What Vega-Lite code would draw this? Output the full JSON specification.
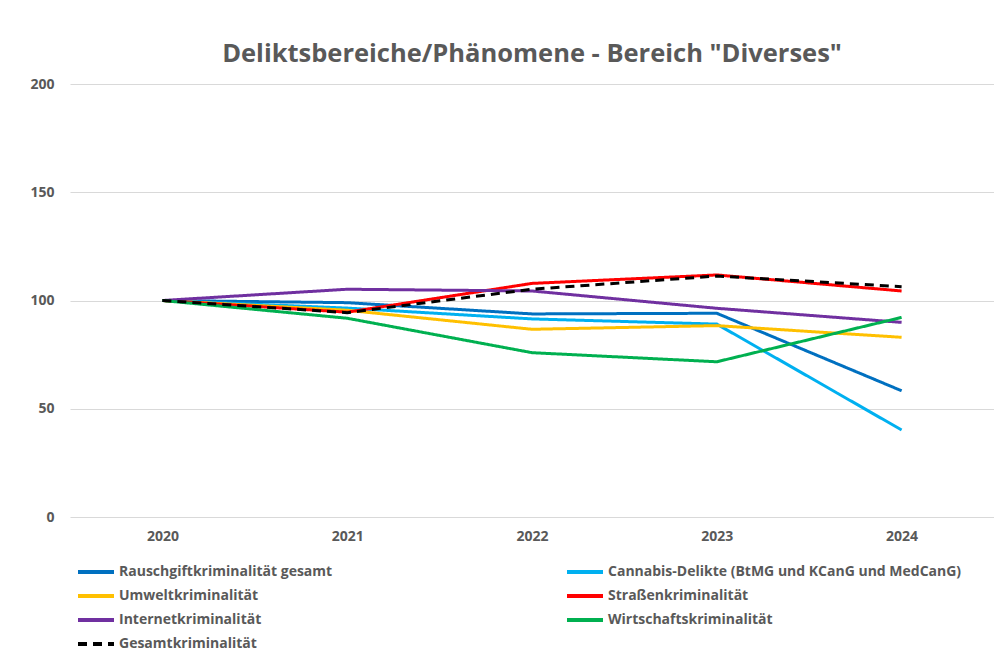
{
  "$schema": "https://vega.github.io/schema/vega-lite/v6.json",
  "width": 924,
  "height": 433,
  "autosize": {"type": "none"},
  "padding": {"left": 70, "top": 84, "right": 0, "bottom": 135},
  "background": "white",
  "title": {
    "text": "Deliktsbereiche/Phänomene - Bereich \"Diverses\"",
    "font": "Open Sans",
    "fontSize": 25.5,
    "fontWeight": "bold",
    "color": "#595959",
    "anchor": "middle",
    "frame": "group",
    "offset": 10
  },
  "config": {
    "view": {"stroke": null},
    "font": "Open Sans"
  },
  "data": {
    "values": [
      {"Jahr": "2020", "Bereich": "Rauschgiftkriminalität gesamt", "Wert": 100},
      {"Jahr": "2021", "Bereich": "Rauschgiftkriminalität gesamt", "Wert": 99},
      {"Jahr": "2022", "Bereich": "Rauschgiftkriminalität gesamt", "Wert": 93.8},
      {"Jahr": "2023", "Bereich": "Rauschgiftkriminalität gesamt", "Wert": 94.1},
      {"Jahr": "2024", "Bereich": "Rauschgiftkriminalität gesamt", "Wert": 58.3},
      {"Jahr": "2020", "Bereich": "Cannabis-Delikte (BtMG und KCanG und MedCanG)", "Wert": 100},
      {"Jahr": "2021", "Bereich": "Cannabis-Delikte (BtMG und KCanG und MedCanG)", "Wert": 96.5},
      {"Jahr": "2022", "Bereich": "Cannabis-Delikte (BtMG und KCanG und MedCanG)", "Wert": 91.5},
      {"Jahr": "2023", "Bereich": "Cannabis-Delikte (BtMG und KCanG und MedCanG)", "Wert": 89.1},
      {"Jahr": "2024", "Bereich": "Cannabis-Delikte (BtMG und KCanG und MedCanG)", "Wert": 40.2},
      {"Jahr": "2020", "Bereich": "Umweltkriminalität", "Wert": 100},
      {"Jahr": "2021", "Bereich": "Umweltkriminalität", "Wert": 95.5},
      {"Jahr": "2022", "Bereich": "Umweltkriminalität", "Wert": 86.7},
      {"Jahr": "2023", "Bereich": "Umweltkriminalität", "Wert": 88.4},
      {"Jahr": "2024", "Bereich": "Umweltkriminalität", "Wert": 83.0},
      {"Jahr": "2020", "Bereich": "Straßenkriminalität", "Wert": 100},
      {"Jahr": "2021", "Bereich": "Straßenkriminalität", "Wert": 94.6},
      {"Jahr": "2022", "Bereich": "Straßenkriminalität", "Wert": 107.9},
      {"Jahr": "2023", "Bereich": "Straßenkriminalität", "Wert": 111.8},
      {"Jahr": "2024", "Bereich": "Straßenkriminalität", "Wert": 104.4},
      {"Jahr": "2020", "Bereich": "Internetkriminalität", "Wert": 100},
      {"Jahr": "2021", "Bereich": "Internetkriminalität", "Wert": 105.2},
      {"Jahr": "2022", "Bereich": "Internetkriminalität", "Wert": 104.4},
      {"Jahr": "2023", "Bereich": "Internetkriminalität", "Wert": 96.4},
      {"Jahr": "2024", "Bereich": "Internetkriminalität", "Wert": 89.9},
      {"Jahr": "2020", "Bereich": "Wirtschaftskriminalität", "Wert": 100},
      {"Jahr": "2021", "Bereich": "Wirtschaftskriminalität", "Wert": 91.8},
      {"Jahr": "2022", "Bereich": "Wirtschaftskriminalität", "Wert": 75.9},
      {"Jahr": "2023", "Bereich": "Wirtschaftskriminalität", "Wert": 71.7},
      {"Jahr": "2024", "Bereich": "Wirtschaftskriminalität", "Wert": 92.2},
      {"Jahr": "2020", "Bereich": "Gesamtkriminalität", "Wert": 100},
      {"Jahr": "2021", "Bereich": "Gesamtkriminalität", "Wert": 94.4},
      {"Jahr": "2022", "Bereich": "Gesamtkriminalität", "Wert": 105.2},
      {"Jahr": "2023", "Bereich": "Gesamtkriminalität", "Wert": 111.3},
      {"Jahr": "2024", "Bereich": "Gesamtkriminalität", "Wert": 106.4}
    ]
  },
  "mark": {"type": "line", "strokeWidth": 3},
  "encoding": {
    "x": {
      "field": "Jahr",
      "type": "ordinal",
      "scale": {"type": "point", "padding": 0.5},
      "axis": {
        "title": null,
        "labelAngle": 0,
        "domain": false,
        "ticks": false,
        "labelPadding": 12,
        "labelFont": "Open Sans",
        "labelFontSize": 14,
        "labelFontWeight": "bold",
        "labelColor": "#595959"
      }
    },
    "y": {
      "field": "Wert",
      "type": "quantitative",
      "scale": {"domain": [0, 200], "nice": false},
      "axis": {
        "title": null,
        "values": [0, 50, 100, 150, 200],
        "domain": false,
        "ticks": false,
        "labelPadding": 16,
        "gridColor": "#d9d9d9",
        "gridWidth": 1,
        "labelFont": "Open Sans",
        "labelFontSize": 14,
        "labelFontWeight": "bold",
        "labelColor": "#595959"
      }
    },
    "color": {
      "field": "Bereich",
      "type": "nominal",
      "scale": {
        "domain": ["Rauschgiftkriminalität gesamt", "Cannabis-Delikte (BtMG und KCanG und MedCanG)", "Umweltkriminalität", "Straßenkriminalität", "Internetkriminalität", "Wirtschaftskriminalität", "Gesamtkriminalität"],
        "range": ["#0070C0", "#00B0F0", "#FFC000", "#FF0000", "#7030A0", "#00B050", "#000000"]
      },
      "legend": {
        "title": null,
        "orient": "none",
        "legendX": 15,
        "legendY": 477,
        "direction": "horizontal",
        "columns": 2,
        "columnPadding": 226,
        "rowPadding": 5,
        "labelLimit": 500,
        "symbolType": "M-2,0H2",
        "symbolSize": 324,
        "symbolStrokeWidth": 4,
        "labelFont": "Open Sans",
        "labelFontSize": 14,
        "labelFontWeight": "bold",
        "labelColor": "#595959",
        "labelOffset": 12
      }
    },
    "strokeDash": {
      "field": "Bereich",
      "type": "nominal",
      "scale": {
        "domain": ["Rauschgiftkriminalität gesamt", "Cannabis-Delikte (BtMG und KCanG und MedCanG)", "Umweltkriminalität", "Straßenkriminalität", "Internetkriminalität", "Wirtschaftskriminalität", "Gesamtkriminalität"],
        "range": [[1, 0], [1, 0], [1, 0], [1, 0], [1, 0], [1, 0], [9, 6]]
      },
      "legend": null
    }
  }
}
